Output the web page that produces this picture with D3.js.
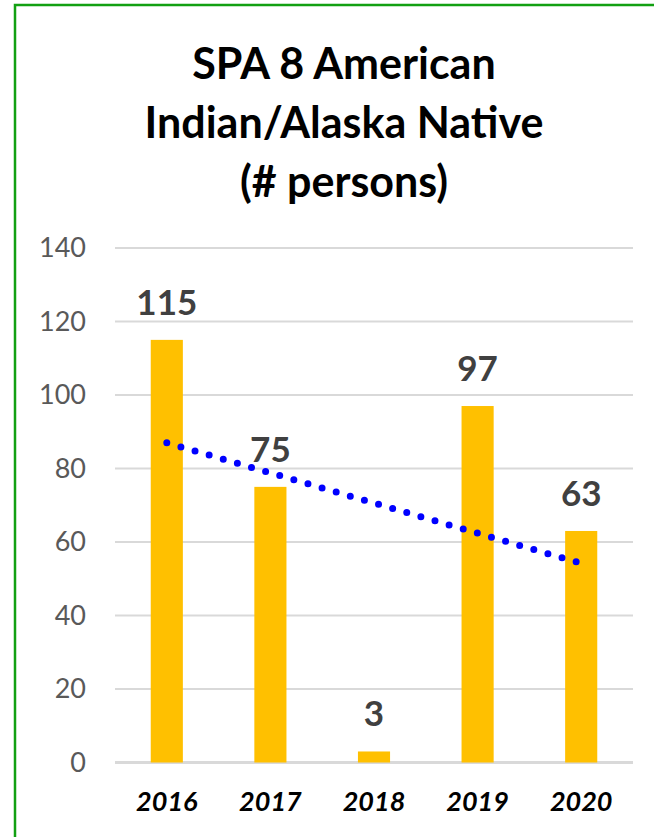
<html>
<head>
<meta charset="utf-8">
<script src="https://d3js.org/d3.v7.min.js"></script>
<style>
  body { margin: 0; background: #fff; }
  svg text { font-family: Lato, "Open Sans", sans-serif; }
</style>
</head>
<body>
<div id="chart"></div>
<script>
  // data
  var years = ["2016", "2017", "2018", "2019", "2020"];
  var persons = [115, 75, 3, 97, 63];
  var yTicks = [0, 20, 40, 60, 80, 100, 120, 140];
  var titleLines = ["SPA 8 American", "Indian/Alaska Native", "(# persons)"];

  var width = 654, height = 837;
  var plotLeft = 115, plotRight = 633, plotTop = 248, plotBottom = 762.5;

  var svg = d3.select("#chart").append("svg")
    .attr("width", width)
    .attr("height", height);

  // green frame (runs off the right and bottom edges)
  svg.append("rect")
    .attr("x", 15).attr("y", 5)
    .attr("width", 700).attr("height", 900)
    .attr("fill", "none")
    .attr("stroke", "#12a012")
    .attr("stroke-width", 2.5);

  // title
  svg.append("g").selectAll("text")
    .data(titleLines)
    .join("text")
    .attr("x", 344)
    .attr("y", function (d, i) { return 79 + i * 59; })
    .attr("text-anchor", "middle")
    .style("font-size", "43px")
    .style("font-weight", "bold")
    .attr("fill", "#000")
    .text(function (d) { return d; });

  var xs = d3.scaleBand().domain(years).range([plotLeft, plotRight]).paddingInner(0.69).paddingOuter(0.345);
  var ys = d3.scaleLinear().domain([0, 140]).range([plotBottom, plotTop]);

  // gridlines
  svg.append("g").selectAll("line")
    .data(yTicks)
    .join("line")
    .attr("x1", plotLeft).attr("x2", plotRight)
    .attr("y1", function (d) { return ys(d); })
    .attr("y2", function (d) { return ys(d); })
    .attr("stroke", "#d9d9d9")
    .attr("stroke-width", function (d) { return d === 0 ? 3 : 2; });

  // y axis labels
  var yAxis = svg.append("g")
    .attr("transform", "translate(" + 96 + ",0)")
    .call(d3.axisLeft(ys).tickValues(yTicks).tickSize(0).tickPadding(10));
  yAxis.select(".domain").remove();
  yAxis.selectAll("text")
    .style("font-size", "27px")
    .style("font-family", "Lato, sans-serif")
    .attr("fill", "#595959");

  // bars
  svg.append("g").selectAll("rect")
    .data(persons)
    .join("rect")
    .attr("x", function (d, i) { return xs(years[i]); })
    .attr("y", function (d) { return ys(d); })
    .attr("width", xs.bandwidth())
    .attr("height", function (d) { return plotBottom - ys(d); })
    .attr("fill", "#ffc000");

  // value labels
  svg.append("g").selectAll("text")
    .data(persons)
    .join("text")
    .attr("x", function (d, i) { return xs(years[i]) + xs.bandwidth() / 2; })
    .attr("y", function (d) { return ys(d) - 25; })
    .attr("text-anchor", "middle")
    .style("font-size", "35px")
    .style("font-weight", "bold")
    .attr("fill", "#404040")
    .text(function (d) { return d; });

  // linear trendline (least squares over the bars)
  var n = persons.length;
  var mx = (n + 1) / 2, my = d3.mean(persons);
  var sxy = 0, sxx = 0;
  persons.forEach(function (v, i) {
    sxy += (i + 1 - mx) * (v - my);
    sxx += (i + 1 - mx) * (i + 1 - mx);
  });
  var slope = sxy / sxx;
  var trend = years.map(function (yr, i) { return { year: yr, v: my + slope * (i + 1 - mx) }; });
  var line = d3.line()
    .x(function (d) { return xs(d.year) + xs.bandwidth() / 2; })
    .y(function (d) { return ys(d.v); });
  svg.append("path")
    .attr("d", line([trend[0], trend[n - 1]]))
    .attr("fill", "none")
    .attr("stroke", "#0000ff")
    .attr("stroke-width", 7)
    .attr("stroke-linecap", "round")
    .attr("stroke-dasharray", "0 14.7");

  // x axis labels
  svg.append("g").selectAll("text")
    .data(years)
    .join("text")
    .attr("x", function (d) { return xs(d) + xs.bandwidth() / 2; })
    .attr("y", 811)
    .attr("text-anchor", "middle")
    .style("font-size", "27px")
    .style("font-weight", "bold")
    .style("font-style", "italic")
    .attr("fill", "#000")
    .text(function (d) { return d; });
</script>
</body>
</html>
